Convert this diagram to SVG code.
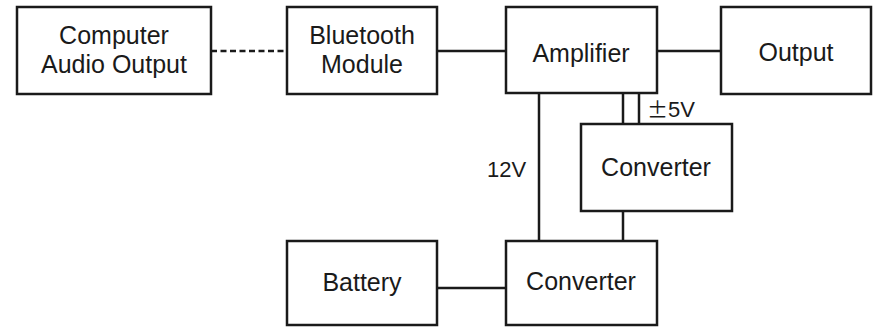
<svg xmlns="http://www.w3.org/2000/svg" width="876" height="327" viewBox="0 0 876 327">
<style>
.box{fill:#fff;stroke:#1a1a1a;stroke-width:2.5}
.ln{fill:none;stroke:#1a1a1a;stroke-width:2.5}
.dash{stroke-dasharray:6 3.5}
text{font-family:"Liberation Sans",Arial,sans-serif;font-size:25px;fill:#1a1a1a;text-anchor:middle}
.lbl{font-size:22px;text-anchor:start}
.pm{font-family:"Noto Sans CJK JP","Liberation Sans",sans-serif;font-size:21px}
</style>
<rect width="876" height="327" fill="#fff"/>
<g id="connectors">
<line class="ln dash" x1="211" y1="51" x2="287" y2="51"/>
<line class="ln" x1="437" y1="51" x2="506" y2="51"/>
<line class="ln" x1="657" y1="51" x2="721" y2="51"/>
<line class="ln" x1="539" y1="93" x2="539" y2="241"/>
<line class="ln" x1="623" y1="93" x2="623" y2="124"/>
<line class="ln" x1="639" y1="93" x2="639" y2="124"/>
<line class="ln" x1="623" y1="211" x2="623" y2="241"/>
<line class="ln" x1="437" y1="288" x2="506" y2="288"/>
<text class="lbl" x="487" y="177">12V</text>
<text class="lbl" x="647" y="117"><tspan class="pm">±</tspan>5V</text>
</g>
<g id="computer">
<rect class="box" x="17" y="7" width="194" height="87"/>
<text x="114" y="44">Computer</text>
<text x="114" y="73">Audio Output</text>
</g>
<g id="bluetooth">
<rect class="box" x="287" y="7" width="150" height="87"/>
<text x="362" y="44">Bluetooth</text>
<text x="362" y="73">Module</text>
</g>
<g id="amplifier">
<rect class="box" x="506" y="7" width="151" height="86"/>
<text x="581" y="62">Amplifier</text>
</g>
<g id="output">
<rect class="box" x="721" y="7" width="150" height="87"/>
<text x="796" y="61">Output</text>
</g>
<g id="converter1">
<rect class="box" x="581" y="124" width="151" height="87"/>
<text x="656" y="176">Converter</text>
</g>
<g id="battery">
<rect class="box" x="287" y="241" width="150" height="84"/>
<text x="362" y="291">Battery</text>
</g>
<g id="converter2">
<rect class="box" x="506" y="241" width="151" height="84"/>
<text x="581" y="290">Converter</text>
</g>
</svg>
